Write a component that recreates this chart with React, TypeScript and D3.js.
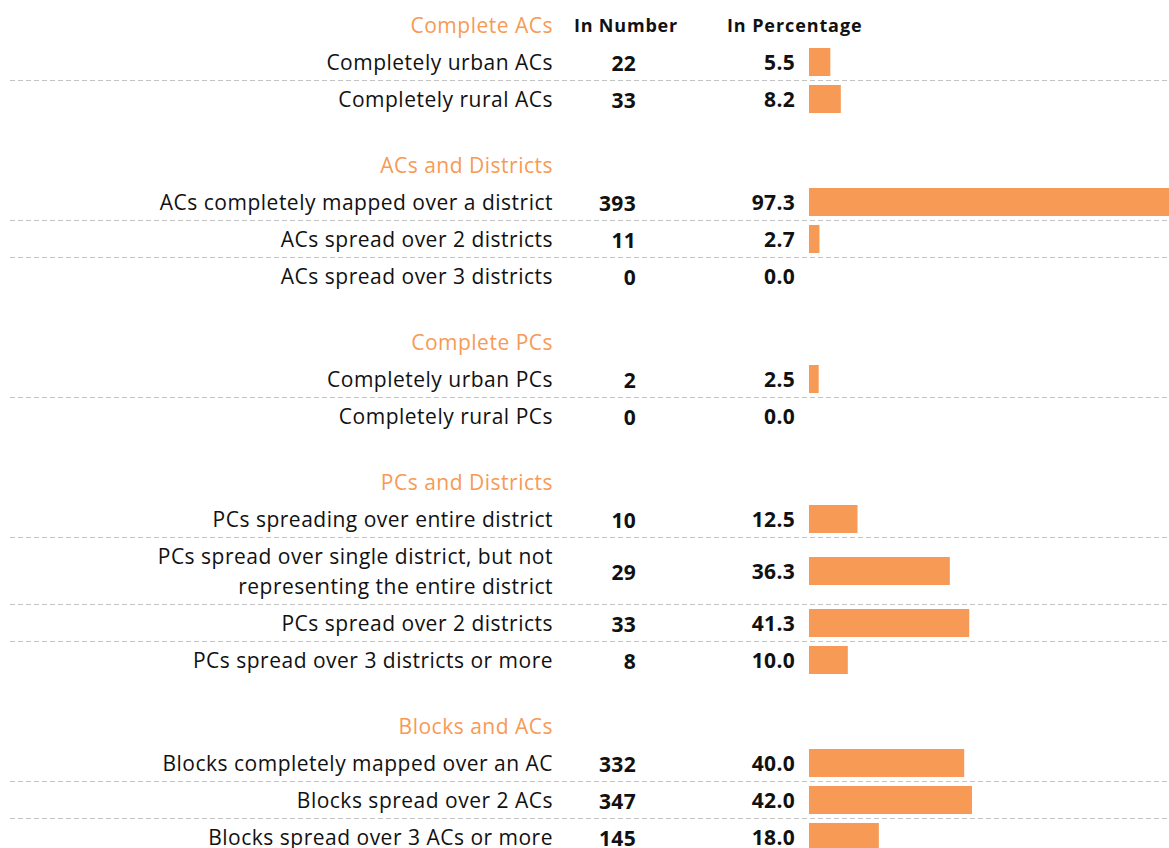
import React from "react";
import * as d3 from "d3";

const groupTitles = ["Complete ACs", "ACs and Districts", "Complete PCs", "PCs and Districts", "Blocks and ACs"];
const rowGroups = [0, 0, 1, 1, 1, 2, 2, 3, 3, 3, 3, 4, 4, 4];
const rowLabels = [
  ["Completely urban ACs"],
  ["Completely rural ACs"],
  ["ACs completely mapped over a district"],
  ["ACs spread over 2 districts"],
  ["ACs spread over 3 districts"],
  ["Completely urban PCs"],
  ["Completely rural PCs"],
  ["PCs spreading over entire district"],
  ["PCs spread over single district, but not", "representing the entire district"],
  ["PCs spread over 2 districts"],
  ["PCs spread over 3 districts or more"],
  ["Blocks completely mapped over an AC"],
  ["Blocks spread over 2 ACs"],
  ["Blocks spread over 3 ACs or more"],
];
const rowNumbers = [22, 33, 393, 11, 0, 2, 0, 10, 29, 33, 8, 332, 347, 145];
const rowPercents = [5.5, 8.2, 97.3, 2.7, 0.0, 2.5, 0.0, 12.5, 36.3, 41.3, 10.0, 40.0, 42.0, 18.0];
const columnHeaders = ["In Number", "In Percentage"];

const W = 1169;
const H = 848;
const ORANGE = "#F79A55";
const FONT = "'Open Sans', 'Noto Sans', sans-serif";

const LABEL_X = 553;
const NUM_X = 636;
const PCT_X = 795;
const BAR_X0 = 809;

const ROW_H = 37;
const LINE_H = 30;
const GROUP_GAP = 29;
const TOP = 25;

type Item = { kind: "header" | "row"; idx: number; y: number; top: number; bottom: number };

function layout(): Item[] {
  const items: Item[] = [];
  let cursor = TOP - ROW_H / 2;
  let prevGroup = -1;
  rowGroups.forEach((g, i) => {
    if (g !== prevGroup) {
      if (prevGroup !== -1) cursor += GROUP_GAP;
      items.push({ kind: "header", idx: g, y: cursor + ROW_H / 2, top: cursor, bottom: cursor + ROW_H });
      cursor += ROW_H;
      prevGroup = g;
    }
    const h = ROW_H + (rowLabels[i].length - 1) * LINE_H;
    items.push({ kind: "row", idx: i, y: cursor + h / 2, top: cursor, bottom: cursor + h });
    cursor += h;
  });
  return items;
}

export default function App() {
  const x = d3.scaleLinear().domain([0, 100]).range([BAR_X0, BAR_X0 + 388]);
  const items = layout();
  const rows = items.filter((d) => d.kind === "row");
  const separators: number[] = [];
  for (let k = 1; k < rows.length; k++) {
    if (rowGroups[rows[k].idx] === rowGroups[rows[k - 1].idx]) separators.push(rows[k].top);
  }
  const fmt = d3.format(".1f");
  const BAR_H = 28;
  const LABEL_FS = 21;
  const LABEL_LS = 0.5;

  return (
    <svg
      width={W}
      height={H}
      style={{ position: "fixed", left: 0, top: 0, background: "#fff" }}
      fontFamily={FONT}
    >
      {separators.map((y, i) => (
        <line key={"s" + i} x1={10} x2={W} y1={y} y2={y} stroke="#c4c4c4" strokeWidth={1} strokeDasharray="5 3" />
      ))}
      {items.map((it, k) => {
        if (it.kind === "header") {
          return (
            <g key={"h" + k}>
              <text x={LABEL_X} y={it.y} textAnchor="end" dominantBaseline="central" fontSize={LABEL_FS} letterSpacing={LABEL_LS} fill={ORANGE}>
                {groupTitles[it.idx]}
              </text>
              {it.idx === 0 && (
                <>
                  <text x={574} y={it.y} dominantBaseline="central" fontSize={18} fontWeight={700} fill="#111" letterSpacing={0.8}>
                    {columnHeaders[0]}
                  </text>
                  <text x={727} y={it.y} dominantBaseline="central" fontSize={18} fontWeight={700} fill="#111" letterSpacing={0.9}>
                    {columnHeaders[1]}
                  </text>
                </>
              )}
            </g>
          );
        }
        const i = it.idx;
        const lines = rowLabels[i];
        const v = rowPercents[i];
        return (
          <g key={"r" + k}>
            {lines.map((ln, j) => (
              <text
                key={j}
                x={LABEL_X}
                y={it.y + (j - (lines.length - 1) / 2) * LINE_H}
                textAnchor="end"
                dominantBaseline="central"
                fontSize={LABEL_FS}
                letterSpacing={LABEL_LS}
                fill="#111"
              >
                {ln}
              </text>
            ))}
            <text x={NUM_X} y={it.y + 1} textAnchor="end" dominantBaseline="central" fontSize={21} fontWeight={700} letterSpacing={0.3} fill="#111">
              {rowNumbers[i]}
            </text>
            <text x={PCT_X} y={it.y} textAnchor="end" dominantBaseline="central" fontSize={21} fontWeight={700} letterSpacing={0.3} fill="#111">
              {fmt(v)}
            </text>
            {v > 0 && (
              <rect x={x(0)} y={it.y - BAR_H / 2} width={x(v) - x(0)} height={BAR_H} fill={ORANGE} />
            )}
          </g>
        );
      })}
    </svg>
  );
}
